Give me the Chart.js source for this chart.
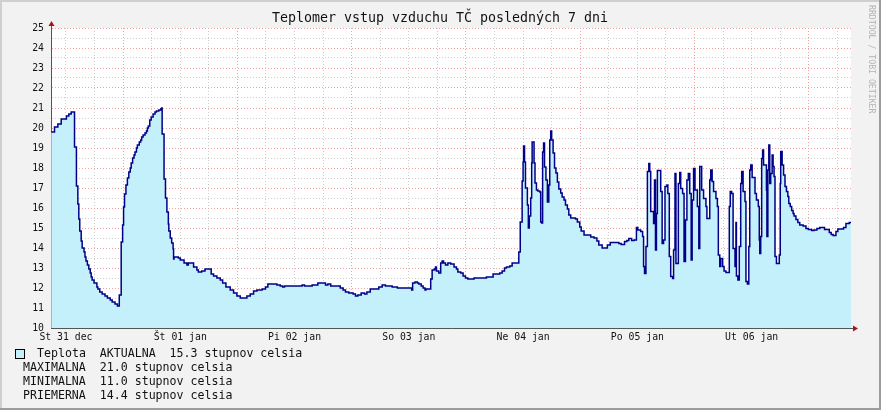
<!DOCTYPE html>
<html>
<head>
<meta charset="utf-8">
<script src="https://cdn.jsdelivr.net/npm/chart.js@4.4.0/dist/chart.umd.min.js"></script>
<style>
html, body { margin: 0; padding: 0; background: #f2f2f2; }
#wrap { width: 881px; height: 410px; }
</style>
</head>
<body>
<div id="wrap"><canvas id="tempChart" width="881" height="410"></canvas></div>
<script>
// Teplota (hodiny od St 31 dec 00:00), hodnoty odcitane z grafu
var hours = [
    8.9, 9.6, 10.3, 11.0, 12.1, 12.6, 13.1, 13.8, 14.2, 14.5, 14.7, 14.9, 15.2, 15.4, 15.8, 16.0,
    16.2, 16.5, 16.8, 17.1, 17.3, 17.5, 17.9, 18.5, 18.7, 19.1, 19.6, 20.2, 20.7, 21.3, 21.7, 22.3,
    22.8, 23.2, 23.6, 23.9, 24.1, 24.3, 24.6, 24.9, 25.2, 25.5, 25.7, 26.0, 26.3, 26.5, 26.8, 27.0,
    27.4, 27.7, 27.9, 28.2, 28.6, 28.9, 29.1, 29.3, 29.6, 29.9, 30.3, 30.7, 31.0, 31.5, 31.9, 32.1,
    32.2, 32.6, 32.9, 33.2, 33.5, 33.6, 33.9, 34.2, 34.5, 34.6, 34.7, 35.6, 36.0, 36.8, 37.4, 37.7,
    38.8, 39.5, 39.8, 40.5, 41.2, 42.5, 43.0, 43.7, 44.4, 44.9, 45.6, 46.5, 47.2, 47.9, 48.6, 49.3,
    50.0, 50.7, 51.4, 52.1, 53.2, 53.9, 54.4, 55.6, 56.3, 57.0, 57.5, 57.9, 61.2, 61.6, 62.1, 63.1,
    63.7, 64.9, 66.5, 67.0, 67.6, 68.9, 69.6, 70.2, 70.7, 71.4, 72.3, 72.8, 73.3, 74.0, 74.7, 75.2,
    75.9, 77.0, 77.7, 78.4, 79.1, 80.5, 81.6, 82.6, 84.3, 84.6, 84.8, 85.3, 85.8, 86.1, 86.6, 87.0,
    87.4, 87.6, 88.4, 88.6, 88.9, 89.4, 89.6, 89.8, 90.3, 90.7, 91.0, 91.3, 91.7, 92.2, 92.8, 93.5,
    94.0, 94.3, 94.9, 95.4, 95.9, 96.4, 97.3, 97.7, 98.7, 99.1, 100.3, 101.3, 101.7, 102.7, 103.1, 103.6,
    104.1, 104.5, 105.2, 105.7, 106.9, 107.1, 107.4, 107.8, 108.0, 108.1, 108.3, 108.5, 108.9, 109.1, 109.3, 109.6,
    109.8, 109.9, 110.3, 110.5, 110.8, 111.1, 111.5, 111.7, 111.9, 112.1, 112.3, 112.5, 112.8, 113.1, 113.4, 113.6,
    113.8, 114.0, 114.3, 114.6, 114.9, 115.2, 115.5, 115.9, 116.2, 116.6, 116.9, 117.3, 117.6, 118.0, 119.0, 119.4,
    119.9, 120.2, 120.8, 121.5, 122.2, 122.9, 123.5, 123.9, 124.6, 125.7, 126.3, 127.5, 128.1, 128.6, 129.3, 129.8,
    130.2, 130.8, 131.3, 131.8, 132.1, 132.7, 133.1, 133.3, 133.5, 133.8, 134.1, 134.4, 134.6, 134.8, 135.4, 135.6,
    135.8, 136.0, 136.2, 136.9, 137.2, 137.5, 137.8, 138.2, 138.4, 138.7, 139.0, 139.4, 139.6, 139.9, 140.1, 140.6,
    140.9, 141.1, 141.5, 141.8, 142.1, 142.4, 142.7, 143.0, 143.3, 143.5, 143.8, 144.1, 144.6, 144.9, 145.1, 145.5,
    145.9, 146.4, 146.6, 147.2, 147.4, 147.7, 148.0, 148.5, 148.8, 149.0, 149.3, 149.5, 149.9, 150.2, 150.6, 151.3,
    151.5, 151.8, 152.1, 152.5, 152.7, 152.8, 153.1, 153.4, 153.7, 153.9, 154.2, 154.6, 154.8, 155.1, 155.4, 155.6,
    155.8, 156.1, 156.7, 157.0, 157.4, 157.6, 157.7, 157.9, 158.1, 158.3, 158.5, 159.1, 159.2, 159.4, 159.6, 159.8,
    160.0, 160.3, 160.5, 160.7, 160.9, 161.2, 161.8, 162.0, 162.1, 162.4, 162.7, 163.0, 163.3, 163.6, 163.8, 164.1,
    164.4, 164.7, 164.9, 165.3, 165.7, 166.1, 166.8, 167.4, 167.9, 168.6, 169.1, 169.7, 170.3, 171.3, 172.3, 172.7,
    173.1, 173.7, 174.1, 175.3, 175.8, 176.5, 176.86
];
var temps = [
    19.8, 20.05, 20.2, 20.45, 20.6, 20.7, 20.8, 19.05, 17.1, 16.2, 15.45, 14.85, 14.35, 14.0, 13.8, 13.55,
    13.35, 13.15, 12.95, 12.75, 12.55, 12.4, 12.25, 12.05, 11.95, 11.8, 11.7, 11.6, 11.5, 11.4, 11.3, 11.2,
    11.1, 11.65, 14.3, 15.15, 16.05, 16.7, 17.15, 17.5, 17.8, 18.0, 18.25, 18.5, 18.65, 18.8, 19.0, 19.15,
    19.3, 19.4, 19.55, 19.65, 19.75, 19.85, 20.0, 20.1, 20.4, 20.55, 20.7, 20.8, 20.85, 20.9, 20.95, 21.0,
    19.7, 17.45, 16.5, 15.8, 15.2, 14.85, 14.5, 14.25, 13.95, 13.45, 13.55, 13.5, 13.4, 13.25, 13.15, 13.25,
    13.05, 12.9, 12.8, 12.85, 12.95, 12.7, 12.6, 12.5, 12.4, 12.25, 12.05, 11.9, 11.75, 11.6, 11.5, 11.5,
    11.6, 11.7, 11.85, 11.9, 11.95, 12.05, 12.2, 12.2, 12.15, 12.1, 12.05, 12.1, 12.1, 12.15, 12.1, 12.1,
    12.15, 12.25, 12.15, 12.2, 12.1, 12.1, 12.0, 11.9, 11.8, 11.75, 11.7, 11.6, 11.65, 11.75, 11.7, 11.8,
    11.95, 11.95, 12.05, 12.15, 12.1, 12.05, 12.0, 12.0, 12.0, 11.9, 12.25, 12.3, 12.25, 12.2, 12.1, 12.0,
    11.9, 11.95, 11.95, 12.45, 12.9, 12.95, 13.05, 12.85, 12.75, 13.25, 13.35, 13.25, 13.15, 13.25, 13.2, 13.05,
    12.95, 12.8, 12.75, 12.6, 12.5, 12.45, 12.45, 12.5, 12.5, 12.5, 12.55, 12.55, 12.7, 12.7, 12.75, 12.85,
    13.0, 13.05, 13.1, 13.25, 13.25, 13.8, 15.3, 17.35, 18.3, 19.1, 18.3, 17.0, 16.15, 15.0, 15.6, 16.5,
    18.25, 19.3, 18.25, 17.25, 16.9, 16.85, 16.8, 15.3, 15.25, 18.8, 19.25, 18.05, 17.4, 16.3, 17.15, 19.4,
    19.85, 19.4, 18.75, 18.0, 17.75, 17.3, 16.95, 16.75, 16.55, 16.4, 16.15, 15.95, 15.65, 15.5, 15.45, 15.3,
    15.05, 14.85, 14.65, 14.65, 14.55, 14.5, 14.35, 14.15, 14.0, 14.15, 14.28, 14.28, 14.23, 14.18, 14.32, 14.37,
    14.47, 14.37, 14.4, 15.02, 14.9, 14.82, 14.57, 13.07, 12.73, 14.07, 17.82, 18.23, 17.82, 15.82, 15.23, 17.4,
    13.9, 15.73, 17.87, 16.82, 14.23, 14.4, 17.07, 17.15, 16.73, 13.57, 12.57, 12.48, 13.9, 17.73, 13.23, 17.23,
    17.77, 16.98, 16.73, 13.32, 15.4, 17.4, 17.73, 16.73, 13.4, 16.4, 17.98, 16.9, 16.07, 13.98, 18.07, 16.9,
    16.48, 16.07, 15.48, 17.4, 17.9, 17.32, 16.82, 16.48, 16.07, 13.65, 13.07, 13.48, 13.07, 12.85, 12.77, 16.07,
    16.82, 16.73, 13.98, 13.07, 15.27, 12.6, 12.4, 14.07, 17.23, 17.82, 16.82, 16.32, 12.32, 12.2, 14.07, 17.9,
    18.15, 17.53, 16.73, 16.4, 16.07, 14.4, 13.73, 14.57, 18.48, 18.9, 18.15, 16.9, 14.57, 17.9, 19.15, 17.23,
    17.73, 18.65, 18.07, 17.57, 13.57, 13.23, 13.65, 17.23, 18.82, 18.15, 17.65, 17.07, 16.82, 16.57, 16.23, 16.07,
    15.87, 15.73, 15.6, 15.43, 15.28, 15.15, 15.1, 14.98, 14.93, 14.87, 14.9, 14.98, 15.03, 14.93, 14.78, 14.68,
    14.62, 14.82, 14.95, 15.03, 15.23, 15.28, 15.3
];

var dayLabels = ['St 31 dec', 'Št 01 jan', 'Pi 02 jan', 'So 03 jan', 'Ne 04 jan', 'Po 05 jan', 'Ut 06 jan'];
var legendRows = [
    ['Teplota  AKTUALNA', '15.3 stupnov celsia'],
    ['MAXIMALNA', '21.0 stupnov celsia'],
    ['MINIMALNA', '11.0 stupnov celsia'],
    ['PRIEMERNA', '14.4 stupnov celsia']
];

var mono = "'DejaVu Sans Mono', monospace";
var gridRed = '#f0a4a4';
var gridGrey = '#cfcfcf';
var arrowColor = '#a01818';

// pozadie, ramik a texty ako v rrdtool
var rrdLook = {
    id: 'rrdLook',
    beforeDraw: function (chart) {
        var ctx = chart.ctx, a = chart.chartArea;
        ctx.save();
        ctx.fillStyle = '#f2f2f2';
        ctx.fillRect(0, 0, chart.width, chart.height);
        ctx.fillStyle = '#ffffff';
        ctx.fillRect(a.left, a.top, a.right - a.left, a.bottom - a.top);
        ctx.restore();
    },
    afterDraw: function (chart) {
        var ctx = chart.ctx, a = chart.chartArea;
        ctx.save();
        // ramik
        ctx.fillStyle = '#cfcfcf';
        ctx.fillRect(0, 0, chart.width, 2);
        ctx.fillRect(0, 0, 2, chart.height);
        ctx.fillStyle = '#9c9c9c';
        ctx.fillRect(0, chart.height - 2, chart.width, 2);
        ctx.fillRect(chart.width - 2, 0, 2, chart.height);

        // sipky na osiach
        ctx.strokeStyle = '#555';
        ctx.lineWidth = 1;
        ctx.beginPath();
        ctx.moveTo(a.left + 0.5, a.top);
        ctx.lineTo(a.left + 0.5, a.top - 3);
        ctx.moveTo(a.right, a.bottom + 0.5);
        ctx.lineTo(a.right + 3, a.bottom + 0.5);
        ctx.stroke();
        ctx.fillStyle = arrowColor;
        ctx.beginPath();
        ctx.moveTo(a.left - 2.5, a.top - 2);
        ctx.lineTo(a.left + 3.5, a.top - 2);
        ctx.lineTo(a.left + 0.5, a.top - 7);
        ctx.closePath();
        ctx.fill();
        ctx.beginPath();
        ctx.moveTo(a.right + 2, a.bottom - 2.5);
        ctx.lineTo(a.right + 2, a.bottom + 3.5);
        ctx.lineTo(a.right + 7, a.bottom + 0.5);
        ctx.closePath();
        ctx.fill();

        // nadpis
        ctx.fillStyle = '#111';
        ctx.font = '13.3px ' + mono;
        ctx.textAlign = 'center';
        ctx.textBaseline = 'middle';
        ctx.fillText('Teplomer vstup vzduchu TČ posledných 7 dni', 440, 19);

        // vodotlac
        ctx.save();
        ctx.translate(871, 5);
        ctx.rotate(Math.PI / 2);
        ctx.fillStyle = '#b4b4b4';
        ctx.font = '8.2px ' + mono;
        ctx.textAlign = 'left';
        ctx.textBaseline = 'middle';
        ctx.fillText('RRDTOOL / TOBI OETIKER', 0, 0);
        ctx.restore();

        // legenda
        ctx.fillStyle = '#c4f0fc';
        ctx.fillRect(15.5, 349.5, 9, 9);
        ctx.strokeStyle = '#000';
        ctx.lineWidth = 1;
        ctx.strokeRect(15.5, 349.5, 9, 9);
        ctx.fillStyle = '#111';
        ctx.font = '11.6px ' + mono;
        ctx.textAlign = 'left';
        ctx.textBaseline = 'middle';
        legendRows.forEach(function (row, i) {
            var x = i === 0 ? 37 : 23;
            var y = 354 + i * 14;
            ctx.fillText(row[0] + '  ' + row[1], x, y);
        });
        ctx.restore();
    }
};

var xTicks = [];
for (var t = 12; t <= 174; t += 6) xTicks.push(t);

var ctxTemp = document.getElementById('tempChart').getContext('2d');
var tempChart = new Chart(ctxTemp, {
    type: 'line',
    data: {
        datasets: [{
            label: 'Teplota',
            data: hours.map(function (h, i) { return { x: h, y: temps[i] }; }),
            stepped: true,
            borderColor: '#000088',
            borderWidth: 1.5,
            backgroundColor: '#c4f0fc',
            fill: 'start',
            pointRadius: 0
        }]
    },
    options: {
        responsive: false,
        animation: false,
        layout: { padding: { left: 0, right: 30, top: 28, bottom: 0 } },
        plugins: {
            legend: { display: false },
            tooltip: { enabled: false }
        },
        scales: {
            x: {
                type: 'linear',
                min: 8.86,
                max: 176.86,
                afterBuildTicks: function (scale) {
                    scale.ticks = xTicks.map(function (v) { return { value: v }; });
                },
                afterFit: function (scale) { scale.height = 82; },
                grid: {
                    drawTicks: false,
                    color: function (c) { return c.tick && c.tick.value % 24 === 0 ? gridRed : gridGrey; }
                },
                border: { display: true, color: '#555', width: 1, dash: [1, 2] },
                ticks: {
                    autoSkip: false,
                    maxRotation: 0,
                    padding: 4,
                    color: '#111',
                    font: { family: mono, size: 9.8 },
                    callback: function (v) {
                        return v % 24 === 12 ? dayLabels[(v - 12) / 24] : '';
                    }
                }
            },
            y: {
                min: 10,
                max: 25,
                afterFit: function (scale) { scale.width = 51; },
                grid: {
                    drawTicks: false,
                    color: function (c) { return c.tick && Number.isInteger(c.tick.value) ? gridRed : gridGrey; }
                },
                border: { display: true, color: '#555', width: 1, dash: [1, 2] },
                ticks: {
                    stepSize: 0.5,
                    autoSkip: false,
                    padding: 7,
                    color: '#111',
                    font: { family: mono, size: 9.8 },
                    callback: function (v) { return Number.isInteger(v) ? String(v) : ''; }
                }
            }
        }
    },
    plugins: [rrdLook]
});
</script>
</body>
</html>
